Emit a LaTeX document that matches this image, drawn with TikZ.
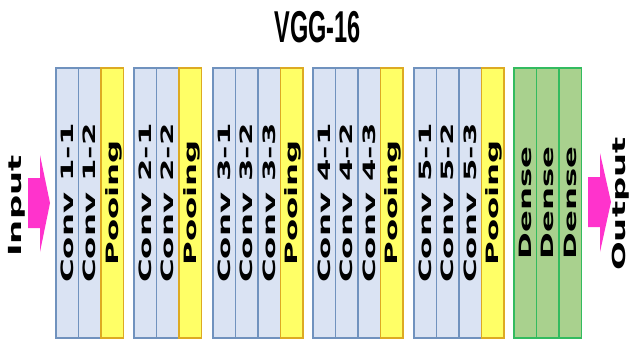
\documentclass[tikz,border=0pt]{standalone}
\usepackage{fontspec}
\usepackage{graphicx}
\newfontfamily\lblfamily{DejaVu Sans}
\newfontfamily\ttlfamily{Liberation Sans}
\definecolor{convfill}{HTML}{DAE3F3}
\definecolor{convline}{HTML}{7092BE}
\definecolor{poolfill}{HTML}{FFFF66}
\definecolor{poolline}{HTML}{DDAA22}
\definecolor{densefill}{HTML}{A9D18E}
\definecolor{denseline}{HTML}{33BB5F}
\definecolor{arrowpink}{HTML}{FF33CC}
\newcommand{\lyr}[1]{\scalebox{1.9}[1]{#1}}
\newcommand{\io}[1]{\scalebox{1.88}[1]{#1}}
\begin{document}
\begin{tikzpicture}[x=1pt,y=-1pt,
  col/.style={line width=1.4pt, minimum width=270pt, minimum height=22.5pt,
    inner sep=0pt, outer sep=0pt, rotate=90, text height=12.4pt, text depth=0pt,
    font=\lblfamily\bfseries\fontsize{17pt}{19pt}\selectfont},
  conv/.style={col, draw=convline, fill=convfill},
  pool/.style={col, draw=poolline, fill=poolfill},
  dense/.style={col, draw=denseline, fill=densefill},
  iolabel/.style={anchor=base, rotate=90, inner sep=0pt,
    font=\lblfamily\bfseries\fontsize{18pt}{20pt}\selectfont},
  bigarrow/.style={fill=arrowpink, draw=none}
]
\useasboundingbox (0,0) rectangle (631,340);

% title
\node[anchor=base, inner sep=0pt, font=\ttlfamily\bfseries\fontsize{23.5pt}{25pt}\selectfont] (title) at (317.5,42) {\scalebox{1}[1.9]{VGG-16}};

% block 1
\node[conv] (c11) at (67.25,203) {\lyr{Conv 1-1}};
\node[conv] (c12) at (89.75,203) {\lyr{Conv 1-2}};
\node[pool] (p1)  at (112.25,203) {\lyr{Pooing}};
% block 2
\node[conv] (c21) at (145.25,203) {\lyr{Conv 2-1}};
\node[conv] (c22) at (167.75,203) {\lyr{Conv 2-2}};
\node[pool] (p2)  at (190.25,203) {\lyr{Pooing}};
% block 3
\node[conv] (c31) at (224.25,203) {\lyr{Conv 3-1}};
\node[conv] (c32) at (246.75,203) {\lyr{Conv 3-2}};
\node[conv] (c33) at (269.25,203) {\lyr{Conv 3-3}};
\node[pool] (p3)  at (291.75,203) {\lyr{Pooing}};
% block 4
\node[conv] (c41) at (324.25,203) {\lyr{Conv 4-1}};
\node[conv] (c42) at (346.75,203) {\lyr{Conv 4-2}};
\node[conv] (c43) at (369.25,203) {\lyr{Conv 4-3}};
\node[pool] (p4)  at (391.75,203) {\lyr{Pooing}};
% block 5
\node[conv] (c51) at (425.25,203) {\lyr{Conv 5-1}};
\node[conv] (c52) at (447.75,203) {\lyr{Conv 5-2}};
\node[conv] (c53) at (470.25,203) {\lyr{Conv 5-3}};
\node[pool] (p5)  at (492.75,203) {\lyr{Pooing}};
% dense
\node[dense] (d1) at (525.25,203) {\lyr{Dense}};
\node[dense] (d2) at (547.75,203) {\lyr{Dense}};
\node[dense] (d3) at (570.25,203) {\lyr{Dense}};

% input / output arrows
\fill[bigarrow] (28,178) -- (40,178) -- (40,155) -- (50,203) -- (40,252) -- (40,228) -- (28,228) -- cycle;
\fill[bigarrow] (588,177) -- (600,177) -- (600,153) -- (611,202) -- (600,252) -- (600,227) -- (588,227) -- cycle;

\node[iolabel] (inlbl) at (21,206) {\io{Input}};
\node[iolabel] (outlbl) at (625,204) {\io{Output}};
\end{tikzpicture}
\end{document}
